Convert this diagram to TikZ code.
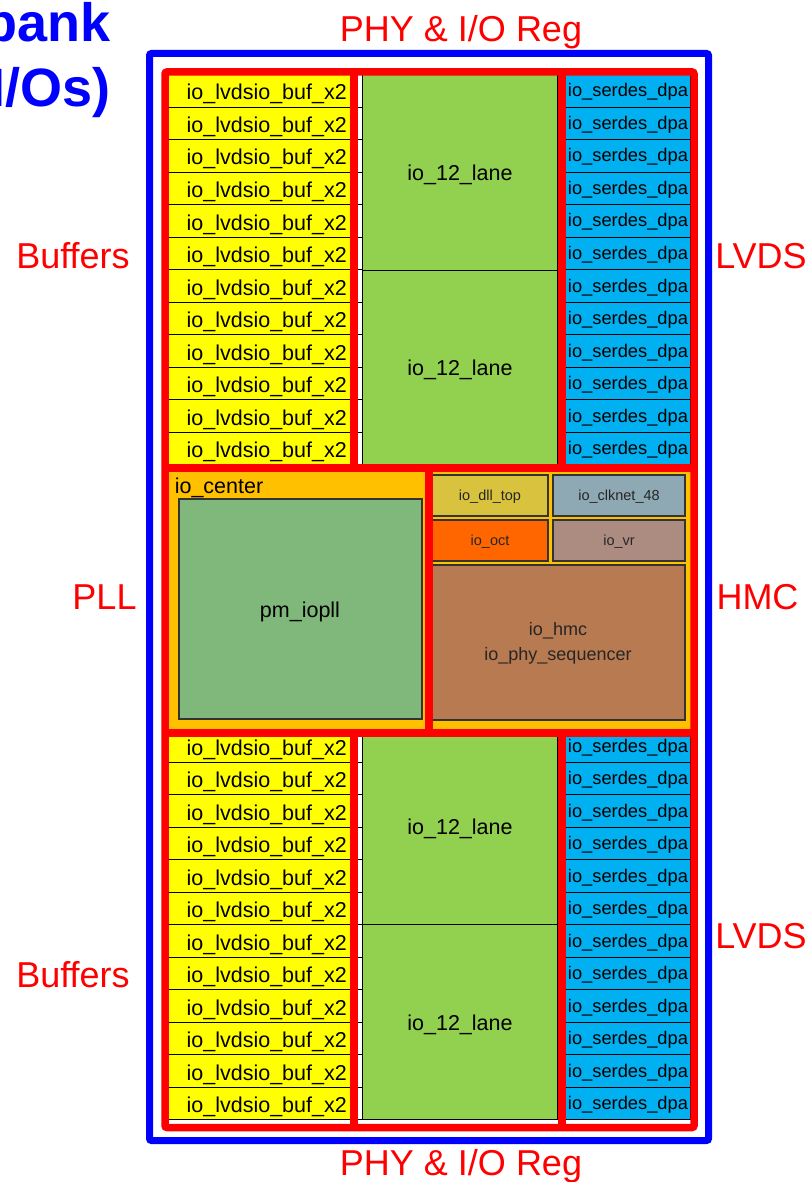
\documentclass[tikz,border=0pt]{standalone}
\usepackage{fontspec}
\setmainfont{Liberation Sans}
\definecolor{ybuf}{HTML}{FFFF00}
\definecolor{glane}{HTML}{92D050}
\definecolor{bserdes}{HTML}{00B0F0}
\definecolor{ocenter}{HTML}{FFC000}
\definecolor{gpll}{HTML}{80B77A}
\definecolor{cdll}{HTML}{D8C23E}
\definecolor{cclk}{HTML}{8FA9B4}
\definecolor{coct}{HTML}{FF6600}
\definecolor{cvr}{HTML}{AC8C80}
\definecolor{chmc}{HTML}{B87A50}
\begin{document}
\begin{tikzpicture}[x=1pt,y=-1pt,
  thinline/.style={line width=0.9pt, draw=black},
  boxline/.style={line width=1.2pt, draw=black!80},
  lbl/.style={text=red, font=\fontsize{36}{40}\selectfont, inner sep=0pt, anchor=base},
  ttl/.style={text=blue, font=\fontsize{54}{60}\selectfont\bfseries, inner sep=0pt, anchor=base east},
  buftxt/.style={font=\fontsize{21.5}{24}\selectfont, inner sep=0pt, anchor=base east},
  sdtxt/.style={font=\fontsize{18.3}{20}\selectfont, inner sep=0pt, anchor=base},
  lanetxt/.style={font=\fontsize{21.5}{24}\selectfont, inner sep=0pt, anchor=base},
  smalltxt/.style={font=\fontsize{14.5}{16}\selectfont, text=black!85, inner sep=0pt, anchor=base},
  hmctxt/.style={font=\fontsize{18}{20}\selectfont, text=black!85, inner sep=0pt, anchor=base},
  redline/.style={draw=red, line width=7.5pt},
]
\useasboundingbox (0,0) rectangle (810,1182);
\fill[white] (0,0) rectangle (810,1182);

% buffer and serdes rows
\foreach \s/\t in {a/74.5, b/729.5} {
  \foreach \i in {0,...,11} {
    \pgfmathsetmacro\yt{\t+\i*32.5}
    \pgfmathsetmacro\yb{\yt+32.5}
    \fill[ybuf] (166,\yt) rectangle (357,\yb);
    \draw[thinline] (166,\yt) rectangle (362,\yb);
    \node[buftxt] (buf-\s-\i) at (347,\yt+25.5) {io\_lvdsio\_buf\_x2};
    \fill[bserdes] (560,\yt) rectangle (690,\yb);
    \draw[thinline] (560,\yt) rectangle (690,\yb);
    \node[sdtxt] (ser-\s-\i) at (628,\yt+22.5) {io\_serdes\_dpa};
  }
}

% lanes
\draw[thinline, fill=glane] (362,74.5) rectangle (557,270);
\draw[thinline, fill=glane] (362,270) rectangle (557,464.5);
\draw[thinline, fill=glane] (362,729.5) rectangle (557,924);
\draw[thinline, fill=glane] (362,924) rectangle (557,1119.5);
\node[lanetxt] (lane1) at (460,181) {io\_12\_lane};
\node[lanetxt] (lane2) at (460,375) {io\_12\_lane};
\node[lanetxt] (lane3) at (460,834) {io\_12\_lane};
\node[lanetxt] (lane4) at (460,1030) {io\_12\_lane};

% middle section
\fill[ocenter] (165,468) rectangle (694,733);
\draw[boxline, fill=gpll] (179,499) rectangle (422,719);
\node[lanetxt] (pll) at (300,617) {pm\_iopll};
\node[lanetxt, anchor=base west] (center) at (174.6,493) {io\_center};

\draw[boxline, fill=cdll] (431,475) rectangle (548,516);
\draw[boxline, fill=cclk] (553,475) rectangle (685,516);
\draw[boxline, fill=coct] (431,520) rectangle (548,561);
\draw[boxline, fill=cvr] (553,520) rectangle (685,561);
\draw[boxline, fill=chmc] (431,565) rectangle (685,720);
\node[smalltxt] (dll) at (490,500) {io\_dll\_top};
\node[smalltxt] (clk) at (619,500) {io\_clknet\_48};
\node[smalltxt] (oct) at (490,545) {io\_oct};
\node[smalltxt] (vr) at (619,545) {io\_vr};
\node[hmctxt] (hmc) at (558,635) {io\_hmc};
\node[hmctxt] (seq) at (558,660) {io\_phy\_sequencer};

% red region outlines
\draw[redline, rounded corners=2pt] (165,72) rectangle (694,1127.5);
\draw[redline] (165,468) -- (694,468);
\draw[redline] (165,733) -- (694,733);
\draw[redline] (354,72) -- (354,468);
\draw[redline] (354,733) -- (354,1127.5);
\draw[redline] (562,72) -- (562,468);
\draw[redline] (562,733) -- (562,1127.5);
\draw[redline] (429,468) -- (429,733);

% blue bank outline
\draw[draw=blue, line width=7pt, rounded corners=2pt] (149.5,53.5) rectangle (708.5,1140.5);

% labels
\node[lbl] (phytop) at (461,42) {PHY \& I/O Reg};
\node[lbl] (phybot) at (461,1175) {PHY \& I/O Reg};
\node[lbl] (buf1) at (73,268) {Buffers};
\node[lbl] (buf2) at (73,987) {Buffers};
\node[lbl] (lvds1) at (761,268) {LVDS};
\node[lbl] (lvds2) at (761,948) {LVDS};
\node[lbl] (plllbl) at (104.5,609) {PLL};
\node[lbl] (hmclbl) at (757.5,609) {HMC};

% title (clipped at page edge)
\node[ttl] (title1) at (111,42) {bank};
\node[ttl] (title2) at (111,107) {I/Os)};
\end{tikzpicture}
\end{document}
